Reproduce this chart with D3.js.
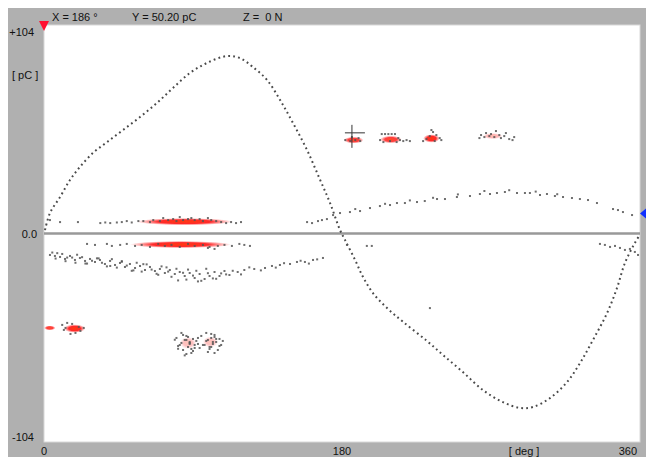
<!DOCTYPE html>
<html><head><meta charset="utf-8">
<script src="https://cdn.jsdelivr.net/npm/d3@7"></script>
<style>
html,body{margin:0;padding:0;background:#fff;}
svg{display:block;font-family:"Liberation Sans",Arial,sans-serif;}
</style></head>
<body>
<svg id="c" width="646" height="457"></svg>
<script>
// ---------- DATA ----------
const phaseDomain = [0, 360];
const chargeDomain = [-104, 104];
const xTickValues = [0, 180, 360];
const xTickLabels = ["0", "180", "360"];
const xUnitLabel = "[ deg ]";
const yTopLabel = "+104", yZeroLabel = "0.0", yBottomLabel = "-104", yUnitLabel = "[ pC ]";
const cursorText = ["X = 186 °", "Y = 50.20 pC", "Z =  0 N"];
const cursorPhase = 186, cursorCharge = 50.2;
const thresholdCharge = 10;

// reference sine (test voltage) curve
const refPhase = [0.6,3.6,9.7,15.7,21.7,29.6,38.1,47.7,58.0,68.2,77.9,88.2,98.5,110.5,118.4,126.2,134.7,142.6,150.4,158.9,166.8,172.8,178.8,181.8,187.9,192.7,198.7,207.2,216.8,231.3,241.0,253.0,265.1,277.2,287.5,295.4,305.6,315.9,323.8,331.6,340.1,346.1,350.9,356.9,359.5];
const refValue = [1.7,10.2,18.2,26.7,33.2,40.2,45.6,51.6,58.1,65.1,72.6,80.1,85.1,88.5,87.5,83.0,76.6,66.6,55.1,41.6,26.7,15.2,1.7,-3.2,-13.2,-21.7,-29.7,-37.2,-44.0,-53.6,-60.6,-69.1,-78.1,-84.1,-87.0,-86.5,-82.1,-74.1,-64.6,-53.1,-39.7,-27.2,-14.7,-4.7,-1.2];

// PD pulses (phase deg, charge pC)
const pdPhase = [
 // positive low band
 3.6,9.7,20.5,34,37,40,44,47,50,53,57,60,64,66,70,72,75,78,80,82,84,87,89,91,94,96,99,101,104,107,110,113,116,119,
 158.9,161.9,165.5,167.9,170.9,174.6,178.8,184.8,190.9,196.9,202.9,209,213.2,218,225.3,230,237.4,242.2,249.4,257.3,263.3,269.4,273.6,278.4,285.7,290.5,293.5,299.6,303.8,308.6,313.5,318.9,323.7,328.6,334,343.7,346.7,349.7,355.2,
 188,206,221,235,250,266,281,297,310,
 // negative near-zero band
 26,30.8,38,41,46,50,55,59,64,69,73,77,82,87,91,96,100,105,109,113.5,118,121,124.4,99,103,
 // negative sloping band
 3.6,6.6,9.7,12.7,15.7,18.7,21.7,24.8,27.8,30.8,33.8,36.8,39.9,42.9,45.9,48.9,51.9,55,58,61,64,67,70,73,76,79,82,85,88,91,94,97,100,103,106,109,112,117,121,127,133.5,137.7,142.5,148.6,152.8,157.6,162.5,168.5,
 8,14,20,26,33,40,47,53,60,68,74,81,87,93,98,104,110,
 5,7,11,13,17,19,23,25,29,32,35,38,41,44,47,50,54,56,59,62,65,69,71,75,77,80,84,86,90,92,95,99,102,107,114,119,124,131,140,145,155,160,165,
 // negative right band
 335.8,338.8,341.9,344.9,347.9,350.9,353.9,356.9,358.8,
 // misc
 183,195,198,233.1,
 // positive clusters
 182,185,188,191,186,190,
 204,206,208,210,212,203,205,209,213,215,217,219,221,214,
 229,231,233,235,237,239,240,234,236,
 263,264,266,267,269,270,272,273,275,276,278,279,281,283,284,
 // negative clusters
 11,12,14,17,19,21,22,24,16,13,
 80,82,83,84,85,86,87,88,89,90,91,92,93,84,86,88,90,81,
 95,97,98,99,100,101,102,103,104,105,106,107,99,101,103,
 79,81,83,85,87,89,91,93,94,86,88,96,98,100,102,104,106,108,101,103
];
const pdValue = [
 6.7,5.7,5.7,5.2,5.5,5.2,5.5,5.7,6.2,5.5,6.2,6.2,5.7,6.7,6.2,7.7,6.7,7.2,6.2,8.2,6.7,7.2,7.7,6.7,7.2,6.2,7.7,6.7,6.2,5.7,5.2,5.7,5.2,5.7,
 5.7,5.2,6.2,6.7,7.2,9.2,10.2,10.7,11.2,12.7,13.7,14.2,15.2,15.2,15.7,16.2,17.2,17.2,18.2,18.7,19.7,19.7,20.2,20.7,20.2,20.2,20.2,19.2,19.7,18.7,18.2,17.7,17.2,16.7,15.2,12.2,11.7,10.7,9.2,
 12.2,14.8,16.5,17.8,19.5,21.2,21.6,20.9,19.6,
 -5.2,-5.7,-5.2,-6.2,-5.7,-5.2,-6.2,-5.7,-6.7,-5.2,-6.2,-5.7,-6.7,-5.2,-6.2,-5.7,-6.7,-6.2,-5.7,-6.2,-5.2,-5.7,-6.2,-7.2,-7.7,
 -10.7,-11.2,-11.7,-12.7,-11.2,-13.2,-12.2,-13.7,-12.7,-14.2,-13.2,-15.2,-13.7,-15.7,-14.7,-16.7,-15.2,-17.2,-16.2,-18.2,-16.7,-18.7,-17.7,-19.7,-18.2,-20.2,-19.2,-21.2,-19.7,-22.2,-20.2,-22.7,-21.2,-19.2,-21.2,-18.7,-20.7,-19.2,-18.2,-17.7,-17.2,-16.2,-15.7,-15.2,-14.2,-14.2,-13.2,-12.2,
 -9.8,-12.0,-10.6,-15.0,-12.4,-16.2,-14.1,-18.6,-15.3,-20.1,-16.9,-23.4,-18.0,-23.9,-17.6,-22.6,-20.4,
 -9.5,-12.5,-10.2,-13.8,-12.0,-14.6,-11.8,-15.0,-13.6,-12.4,-14.6,-16.4,-12.8,-17.0,-13.8,-16.0,-18.4,-14.6,-19.0,-15.4,-18.0,-20.6,-16.4,-19.0,-21.6,-17.6,-19.6,-23.0,-21.0,-18.6,-23.6,-19.8,-22.4,-19.9,-18.6,-20.4,-16.9,-18.4,-17.0,-14.8,-13.6,-15.0,-12.9,
 -5.2,-5.7,-6.7,-6.2,-7.2,-8.2,-7.7,-9.2,-10.7,
 -5.7,-6.2,-6.2,-37.2,
 46.6,46.1,46.6,46.1,48.1,47.6,
 49.6,49.6,49.6,49.6,49.6,46.6,45.6,46.1,45.6,46.6,46.1,46.6,46.1,47.6,
 46.1,47.1,48.6,50.6,49.1,47.6,46.6,51.6,46.1,
 47.6,49.1,48.1,50.1,48.6,49.6,48.1,51.1,49.1,47.6,48.6,50.1,47.1,46.6,48.1,
 -45.6,-48.1,-44.6,-45.1,-49.6,-46.6,-48.6,-47.1,-50.1,-47.1,
 -52.1,-55.6,-49.6,-58.1,-53.1,-51.1,-56.6,-54.1,-59.6,-52.6,-57.1,-53.6,-55.1,-50.6,-60.1,-54.6,-58.6,-56.1,
 -51.1,-55.6,-49.6,-53.1,-57.6,-52.1,-55.1,-50.6,-54.1,-58.1,-52.6,-55.6,-59.1,-56.6,-51.6,
 -53.0,-57.5,-54.6,-60.8,-51.6,-57.6,-55.6,-52.1,-57.1,-53.1,-55.1,-55.6,-53.6,-56.6,-54.1,-52.6,-56.1,-53.6,-50.1,-59.6
];

// dense pulse concentrations (phase range, centre charge, spread pC, intensity)
const densePhaseFrom = [56, 52, 181, 203, 229, 265, 0, 12, 82, 96];
const densePhaseTo   = [114, 113, 193, 216, 239, 277, 7, 25, 92, 105];
const denseCharge    = [5.9, -5.5, 46.6, 46.9, 47.4, 48.6, -47.1, -47.4, -54.6, -54.1];
const denseSpread    = [1.3, 1.3, 1.2, 1.4, 1.6, 1.0, 0.7, 1.6, 2.5, 2.2];
const denseLevel     = [1, 1, 0.9, 0.9, 1, 0.35, 0.9, 1, 0.3, 0.3];

// ---------- DRAW ----------
const svg = d3.select("#c");
const W = 646, H = 457;
const x = d3.scaleLinear().domain(phaseDomain).range([44, 640]);
const y = d3.scaleLinear().domain(chargeDomain).range([442, 25]);

const defs = svg.append("defs");
const rg = defs.append("radialGradient").attr("id", "hot");
rg.append("stop").attr("offset", "0%").attr("stop-color", "#ff3a10");
rg.append("stop").attr("offset", "55%").attr("stop-color", "#ff2a2a");
rg.append("stop").attr("offset", "100%").attr("stop-color", "#ff4a4a").attr("stop-opacity", 0);
defs.append("filter").attr("id", "blur").append("feGaussianBlur").attr("stdDeviation", 0.55);

svg.append("rect").attr("x", 8).attr("y", 8).attr("width", W - 8).attr("height", H - 8).attr("fill", "#b0b0b0");
svg.append("rect").attr("x", 44).attr("y", 25).attr("width", 596).attr("height", 417)
  .attr("fill", "#fff").attr("stroke", "#d8d8d8").attr("stroke-width", 1);

const plot = svg.append("g").attr("filter", "url(#blur)");

// zero line
plot.append("line").attr("x1", x(0)).attr("x2", x(360)).attr("y1", y(0)).attr("y2", y(0))
  .attr("stroke", "#999").attr("stroke-width", 2.4);

// reference curve (dotted)
const refPts = refPhase.map((p, i) => [p, refValue[i]]);
plot.append("path").datum(refPts)
  .attr("d", d3.line().x(d => x(d[0])).y(d => y(d[1])).curve(d3.curveCatmullRom))
  .attr("fill", "none").attr("stroke", "#4a4a4a").attr("stroke-width", 2)
  .attr("stroke-dasharray", "1.8 3.2");

// dense concentrations
const dense = densePhaseFrom.map((f, i) => ({f, t: densePhaseTo[i], c: denseCharge[i], s: denseSpread[i], l: denseLevel[i]}));
plot.selectAll("ellipse.dense").data(dense).join("ellipse").attr("class", "dense")
  .attr("cx", d => x((d.f + d.t) / 2)).attr("cy", d => y(d.c))
  .attr("rx", d => (x(d.t) - x(d.f)) / 2).attr("ry", d => Math.abs(y(d.s) - y(0)) + 1)
  .attr("fill", "url(#hot)").attr("opacity", d => d.l);

// pulses
const pts = pdPhase.map((p, i) => [p, pdValue[i]]);
plot.selectAll("rect.pd").data(pts).join("rect").attr("class", "pd")
  .attr("x", d => x(d[0]) - 1).attr("y", d => y(d[1]) - 1)
  .attr("width", 2).attr("height", 2).attr("fill", "#555").attr("opacity", 0.85);

// cursor cross
const cx = x(cursorPhase), cy = y(cursorCharge);
plot.append("line").attr("x1", cx).attr("x2", cx).attr("y1", cy - 8).attr("y2", cy + 15).attr("stroke", "#333").attr("stroke-width", 1);
plot.append("line").attr("x1", cx - 7).attr("x2", cx + 13).attr("y1", cy).attr("y2", cy).attr("stroke", "#333").attr("stroke-width", 1);

// markers
svg.append("path").attr("d", `M${x(0) - 5},21 L${x(0) + 5},21 L${x(0)},31 Z`).attr("fill", "#ff1030");
svg.append("path").attr("d", `M${x(360)},${y(thresholdCharge)} L${W},${y(thresholdCharge) - 5} L${W},${y(thresholdCharge) + 5} Z`).attr("fill", "#1030ff");

// texts
const t = svg.append("g").attr("font-size", 11).attr("fill", "#111");
t.append("text").attr("x", 34).attr("y", 36).attr("text-anchor", "end").text(yTopLabel);
t.append("text").attr("x", 12).attr("y", 79).text(yUnitLabel);
t.append("text").attr("x", 37).attr("y", y(0) + 4).attr("text-anchor", "end").text(yZeroLabel);
t.append("text").attr("x", 34).attr("y", 441).attr("text-anchor", "end").text(yBottomLabel);
const tickAnchor = ["start", "middle", "end"];
xTickValues.forEach((v, i) => {
  t.append("text").attr("x", x(v) + (i === 0 ? -3 : i === 2 ? -3 : 0)).attr("y", 455)
    .attr("text-anchor", tickAnchor[i]).text(xTickLabels[i]);
});
t.append("text").attr("x", x(290)).attr("y", 455).attr("text-anchor", "middle").text(xUnitLabel);
const cursorX = [52, 132, 243];
cursorText.forEach((s, i) => t.append("text").attr("x", cursorX[i]).attr("y", 21).style("white-space", "pre").text(s));
</script>
</body></html>
